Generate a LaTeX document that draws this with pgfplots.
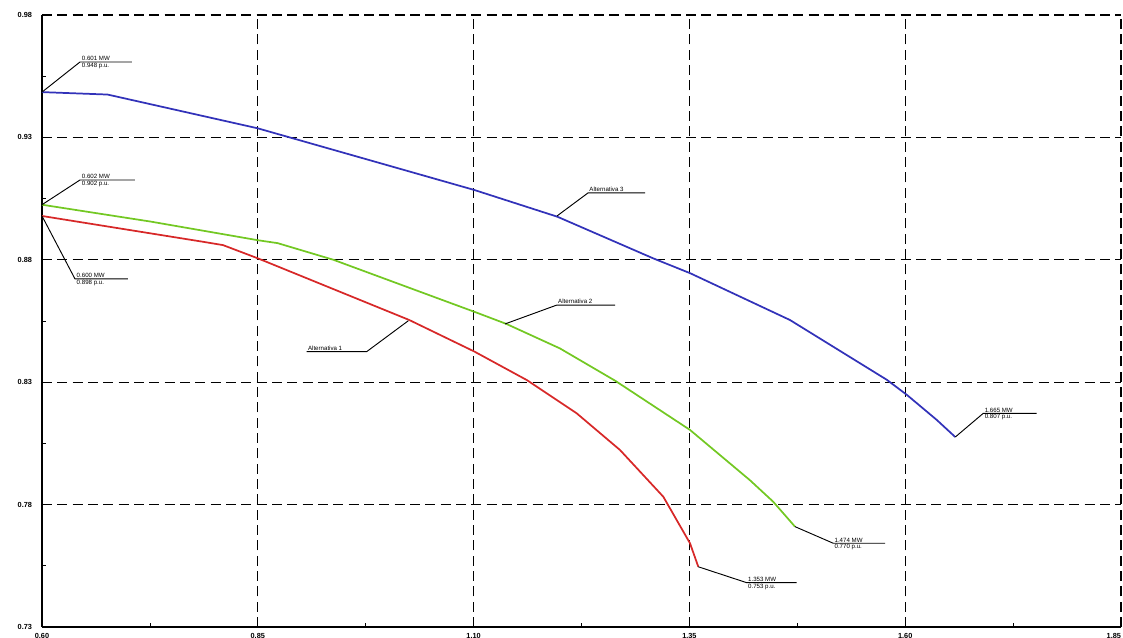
\documentclass[border=0pt]{standalone}
\usepackage{fontspec}
\setmainfont{Liberation Sans}
\usepackage{pgfplots}
\pgfplotsset{compat=1.18}
\definecolor{cRed}{RGB}{215,40,40}
\definecolor{cGreen}{RGB}{115,200,35}
\definecolor{cBlue}{RGB}{50,50,185}
\newcommand{\lblfont}{\fontsize{4.6}{5}\selectfont}
\begin{document}
\begin{tikzpicture}
\useasboundingbox (-31.5pt,-8.25pt) rectangle (810.75pt,470.25pt);
\begin{axis}[
  at={(0,0)}, anchor=south west,
  scale only axis, width=809.25pt, height=459pt,
  xmin=0.60, xmax=1.85, ymin=0.73, ymax=0.98,
  xtick={0.60,0.85,1.10,1.35,1.60,1.85},
  xticklabels={0.60,0.85,1.10,1.35,1.60,\llap{1.85}},
  ytick={0.73,0.78,0.83,0.88,0.93,0.98},
  minor x tick num=1, minor y tick num=1,
  grid=major,
  major grid style={black, line width=0.8pt, dash pattern=on 7.5pt off 4pt},
  axis x line*=bottom, axis y line*=left,
  axis line style={black, line width=0.8pt, -},
  tick align=inside,
  major tick length=3pt, minor tick length=3pt,
  tick style={black, line width=0.6pt},
  ticklabel style={font=\fontsize{5.5}{6}\selectfont\bfseries},
  yticklabel style={xshift=-4pt},
  xticklabel style={yshift=-1pt},
  /pgf/number format/fixed,
  /pgf/number format/fixed zerofill,
  /pgf/number format/precision=2,
  /pgf/number format/assume math mode=true,
]
% Alternativa 3 (blue)
\addplot[cBlue, line width=1.3pt, mark=none] coordinates {
 (0.600,0.9485) (0.676,0.9475) (0.850,0.9337) (0.9855,0.9201) (1.101,0.9085)
 (1.197,0.8976) (1.308,0.8806) (1.351,0.8745) (1.4665,0.8554) (1.5786,0.8310)
 (1.602,0.8248) (1.6365,0.8146) (1.658,0.8076)
};
% Alternativa 2 (green)
\addplot[cGreen, line width=1.3pt, mark=none] coordinates {
 (0.600,0.9025) (0.726,0.8956) (0.850,0.8880) (0.873,0.8868) (0.9376,0.8800)
 (1.1036,0.8584) (1.138,0.8538) (1.200,0.8438) (1.264,0.8306) (1.3507,0.8105)
 (1.420,0.7900) (1.447,0.7812) (1.4723,0.7710)
};
% Alternativa 1 (red)
\addplot[cRed, line width=1.3pt, mark=none] coordinates {
 (0.600,0.8979) (0.7858,0.8874) (0.8097,0.8860) (0.850,0.8806) (1.0255,0.8554)
 (1.101,0.8425) (1.1615,0.8309) (1.2194,0.8173) (1.2696,0.8023) (1.3198,0.7832)
 (1.3507,0.7642) (1.3603,0.7546)
};
% annotations
\tikzset{lead/.style={black, line width=0.7pt}}
% blue start
\draw[lead] (axis cs:0.600,0.9485) -- (axis cs:0.644,0.9608) -- (axis cs:0.704,0.9608);
\node[anchor=south west, inner sep=0.6pt, font=\lblfont] at (axis cs:0.645,0.9608) {0.601 MW};
\node[anchor=north west, inner sep=0.6pt, font=\lblfont] at (axis cs:0.645,0.9608) {0.948 p.u.};
% green start
\draw[lead] (axis cs:0.600,0.9025) -- (axis cs:0.644,0.9126) -- (axis cs:0.7077,0.9126);
\node[anchor=south west, inner sep=0.6pt, font=\lblfont] at (axis cs:0.645,0.9126) {0.602 MW};
\node[anchor=north west, inner sep=0.6pt, font=\lblfont] at (axis cs:0.645,0.9126) {0.902 p.u.};
% red start
\draw[lead] (axis cs:0.600,0.8979) -- (axis cs:0.6382,0.8722) -- (axis cs:0.6996,0.8722);
\node[anchor=south west, inner sep=0.6pt, font=\lblfont] at (axis cs:0.639,0.8722) {0.600 MW};
\node[anchor=north west, inner sep=0.6pt, font=\lblfont] at (axis cs:0.639,0.8722) {0.898 p.u.};
% Alternativa 3
\draw[lead] (axis cs:1.1966,0.8979) -- (axis cs:1.2325,0.9073) -- (axis cs:1.2986,0.9073);
\node[anchor=south west, inner sep=0.6pt, font=\lblfont] at (axis cs:1.2330,0.9073) {Alternativa 3};
% Alternativa 2
\draw[lead] (axis cs:1.1364,0.8538) -- (axis cs:1.1963,0.8615) -- (axis cs:1.2638,0.8615);
\node[anchor=south west, inner sep=0.6pt, font=\lblfont] at (axis cs:1.1968,0.8615) {Alternativa 2};
% Alternativa 1
\draw[lead] (axis cs:1.0244,0.8551) -- (axis cs:0.9762,0.8425) -- (axis cs:0.9066,0.8425);
\node[anchor=south west, inner sep=0.6pt, font=\lblfont] at (axis cs:0.9070,0.8425) {Alternativa 1};
% blue end
\draw[lead] (axis cs:1.658,0.8076) -- (axis cs:1.6905,0.8173) -- (axis cs:1.7523,0.8173);
\node[anchor=south west, inner sep=0.6pt, font=\lblfont] at (axis cs:1.6910,0.8173) {1.665 MW};
\node[anchor=north west, inner sep=0.6pt, font=\lblfont] at (axis cs:1.6910,0.8173) {0.807 p.u.};
% green end
\draw[lead] (axis cs:1.4723,0.7710) -- (axis cs:1.5167,0.7642) -- (axis cs:1.5766,0.7642);
\node[anchor=south west, inner sep=0.6pt, font=\lblfont] at (axis cs:1.5170,0.7642) {1.474 MW};
\node[anchor=north west, inner sep=0.6pt, font=\lblfont] at (axis cs:1.5170,0.7642) {0.770 p.u.};
% red end
\draw[lead] (axis cs:1.3603,0.7546) -- (axis cs:1.4164,0.7481) -- (axis cs:1.4743,0.7481);
\node[anchor=south west, inner sep=0.6pt, font=\lblfont] at (axis cs:1.4168,0.7481) {1.353 MW};
\node[anchor=north west, inner sep=0.6pt, font=\lblfont] at (axis cs:1.4168,0.7481) {0.753 p.u.};
\end{axis}
\end{tikzpicture}
\end{document}
